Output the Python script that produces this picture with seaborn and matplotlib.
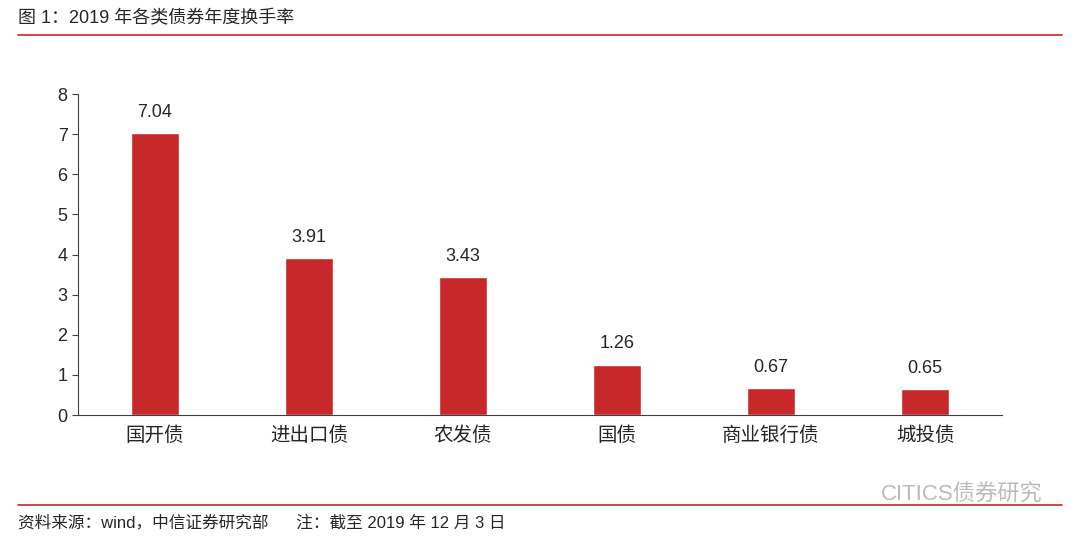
import matplotlib
matplotlib.use("Agg")
import matplotlib.pyplot as plt
import seaborn as sns
import pandas as pd

categories = ['国开债', '进出口债', '农发债', '国债', '商业银行债', '城投债']
turnover = [7.04, 3.91, 3.43, 1.26, 0.67, 0.65]

sns.set_style("white")
plt.rcParams['font.family'] = ['Liberation Sans', 'Noto Sans CJK SC', 'DejaVu Sans']

df = pd.DataFrame({'cat': categories, 'val': turnover})
red = '#C8282A'

fig = plt.figure(figsize=(10.8, 5.44), dpi=100)
ax = fig.add_axes([0.0722, 0.237, 0.8556, 0.590])
sns.barplot(data=df, x='cat', y='val', ax=ax, color=red, width=0.31, saturation=1)
ax.set_xlim(-0.5, 5.5)
ax.set_ylim(0, 8)
ax.set_yticks(range(0, 9))
ax.set_xlabel('')
ax.set_ylabel('')
for s in ['top', 'right']:
    ax.spines[s].set_visible(False)
for s in ['left', 'bottom']:
    ax.spines[s].set_color('#404040')
    ax.spines[s].set_linewidth(0.8)
ax.tick_params(axis='y', length=4, direction='out', labelsize=13, left=True, color='#404040')
ax.tick_params(axis='x', length=0, labelsize=14, pad=8)
for i, v in enumerate(turnover):
    ax.text(i, v + 0.3, f'{v:.2f}', ha='center', va='bottom', fontsize=13)

fig.text(0.017, 0.965, '图 1：2019 年各类债券年度换手率', fontsize=13, va='center', ha='left')
fig.add_artist(plt.Line2D([0.017, 0.983], [0.935, 0.935], color=red, lw=1.2))
fig.add_artist(plt.Line2D([0.017, 0.983], [0.072, 0.072], color=red, lw=1.2))
fig.text(0.017, 0.040, '资料来源：wind，中信证券研究部      注：截至 2019 年 12 月 3 日',
         fontsize=12, va='center', ha='left')
fig.text(0.965, 0.090, 'CITICS债券研究', fontsize=16, color='#BBBBBB', va='center', ha='right')

fig.savefig('out.png', dpi=100)
